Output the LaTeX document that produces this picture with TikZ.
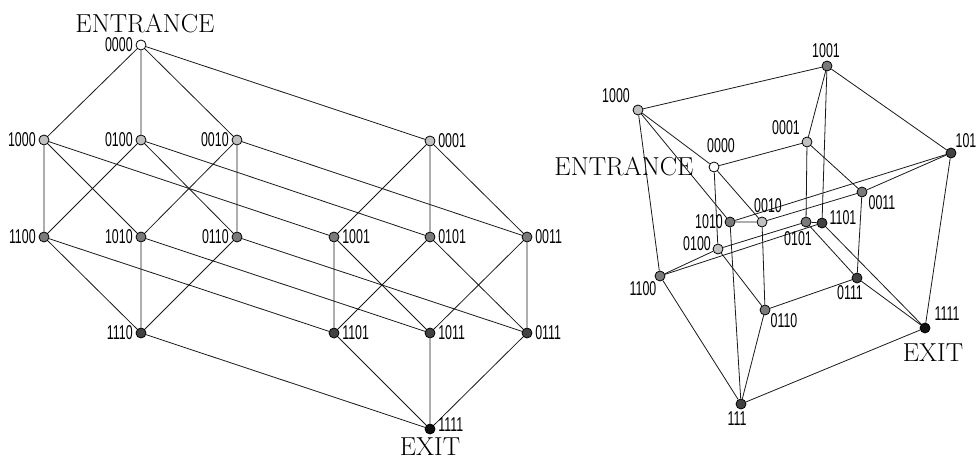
\documentclass[tikz,border=0pt]{standalone}
\usepackage{fontspec}
\newfontfamily\bitfont[FakeStretch=0.62]{Liberation Sans}
\usetikzlibrary{positioning}
\definecolor{lvlone}{RGB}{192,192,192}
\definecolor{lvltwo}{RGB}{122,122,122}
\definecolor{lvlthree}{RGB}{66,66,66}
\definecolor{lvlfour}{RGB}{16,16,16}

\begin{document}
\begin{tikzpicture}[
  x=0.75pt, y=-0.75pt,
  vtx/.style={circle, draw=black, line width=0.6pt, minimum size=7.5pt,
    inner sep=0pt},
  v0/.style={vtx, fill=white},
  v1/.style={vtx, fill=lvlone},
  v2/.style={vtx, fill=lvltwo},
  v3/.style={vtx, fill=lvlthree},
  v4/.style={vtx, fill=lvlfour},
  edge/.style={draw=black!90, line width=0.6pt},
  bit/.style={font=\bitfont\fontsize{15}{17}\selectfont, inner sep=0pt},
  word/.style={font=\fontsize{19.5}{22}\selectfont, inner sep=0pt},
]
  \useasboundingbox (0,0) rectangle (977,459);

  % Left: layered hypercube
  \node[v0] (n0000) at (141,45) {};
  \node[v1] (n1000) at (44,140) {};
  \node[v1] (n0100) at (141,140) {};
  \node[v1] (n0010) at (237,140) {};
  \node[v1] (n0001) at (430,141) {};
  \node[v2] (n1100) at (44,237) {};
  \node[v2] (n1010) at (141,237) {};
  \node[v2] (n0110) at (237,237) {};
  \node[v2] (n1001) at (334,237) {};
  \node[v2] (n0101) at (430,237) {};
  \node[v2] (n0011) at (527,237) {};
  \node[v3] (n1110) at (141,333) {};
  \node[v3] (n1101) at (334,333) {};
  \node[v3] (n1011) at (430,333) {};
  \node[v3] (n0111) at (527,333) {};
  \node[v4] (n1111) at (430,429) {};

  \draw[edge] (n0000) -- (n1000) (n0000) -- (n0100) (n0000) -- (n0010) (n0000) -- (n0001);
  \draw[edge] (n1000) -- (n1100) (n1000) -- (n1010) (n1000) -- (n1001);
  \draw[edge] (n0100) -- (n1100) (n0100) -- (n0110) (n0100) -- (n0101);
  \draw[edge] (n0010) -- (n1010) (n0010) -- (n0110) (n0010) -- (n0011);
  \draw[edge] (n0001) -- (n1001) (n0001) -- (n0101) (n0001) -- (n0011);
  \draw[edge] (n1100) -- (n1110) (n1100) -- (n1101);
  \draw[edge] (n1010) -- (n1110) (n1010) -- (n1011);
  \draw[edge] (n0110) -- (n1110) (n0110) -- (n0111);
  \draw[edge] (n1001) -- (n1101) (n1001) -- (n1011);
  \draw[edge] (n0101) -- (n1101) (n0101) -- (n0111);
  \draw[edge] (n0011) -- (n1011) (n0011) -- (n0111);
  \draw[edge] (n1110) -- (n1111) (n1101) -- (n1111) (n1011) -- (n1111) (n0111) -- (n1111);

  \node[bit, left=2pt of n0000] (a0000) {0000};
  \node[bit, left=2pt of n1000] (a1000) {1000};
  \node[bit, left=2pt of n0100] (a0100) {0100};
  \node[bit, left=2pt of n0010] (a0010) {0010};
  \node[bit, right=2pt of n0001] (a0001) {0001};
  \node[bit, left=2pt of n1100] (a1100) {1100};
  \node[bit, left=2pt of n1010] (a1010) {1010};
  \node[bit, left=2pt of n0110] (a0110) {0110};
  \node[bit, right=2pt of n1001] (a1001) {1001};
  \node[bit, right=2pt of n0101] (a0101) {0101};
  \node[bit, right=2pt of n0011] (a0011) {0011};
  \node[bit, left=2pt of n1110] (a1110) {1110};
  \node[bit, right=2pt of n1101] (a1101) {1101};
  \node[bit, right=2pt of n1011] (a1011) {1011};
  \node[bit, right=2pt of n0111] (a0111) {0111};
  \node[bit, right=2pt of n1111, yshift=3pt] (a1111) {1111};
  \node[word] (entl) at (145,24) {ENTRANCE};
  \node[word] (exitl) at (430,447) {EXIT};

  % Right: hypercube in perspective
  \node[v0] (m0000) at (714,167) {};
  \node[v1] (m1000) at (638,110) {};
  \node[v1] (m0100) at (718,249) {};
  \node[v1] (m0010) at (762,222) {};
  \node[v1] (m0001) at (807,142) {};
  \node[v2] (m1100) at (660,276) {};
  \node[v2] (m1010) at (730,222) {};
  \node[v2] (m0110) at (765,310) {};
  \node[v2] (m1001) at (827,66) {};
  \node[v2] (m0101) at (806,222) {};
  \node[v2] (m0011) at (862,192) {};
  \node[v3] (m1110) at (741,404) {};
  \node[v3] (m1101) at (822,223) {};
  \node[v3] (m1011) at (951,153) {};
  \node[v3] (m0111) at (857,278) {};
  \node[v4] (m1111) at (925,328) {};

  \draw[edge] (m0000) -- (m1000) (m0000) -- (m0100) (m0000) -- (m0010) (m0000) -- (m0001);
  \draw[edge] (m1000) -- (m1100) (m1000) -- (m1010) (m1000) -- (m1001);
  \draw[edge] (m0100) -- (m1100) (m0100) -- (m0110) (m0100) -- (m0101);
  \draw[edge] (m0010) -- (m1010) (m0010) -- (m0110) (m0010) -- (m0011);
  \draw[edge] (m0001) -- (m1001) (m0001) -- (m0101) (m0001) -- (m0011);
  \draw[edge] (m1100) -- (m1110) (m1100) -- (m1101);
  \draw[edge] (m1010) -- (m1110) (m1010) -- (m1011);
  \draw[edge] (m0110) -- (m1110) (m0110) -- (m0111);
  \draw[edge] (m1001) -- (m1101) (m1001) -- (m1011);
  \draw[edge] (m0101) -- (m1101) (m0101) -- (m0111);
  \draw[edge] (m0011) -- (m1011) (m0011) -- (m0111);
  \draw[edge] (m1110) -- (m1111) (m1101) -- (m1111) (m1011) -- (m1111) (m0111) -- (m1111);

  \node[bit] (b0000) at (721,146) {0000};
  \node[bit] (b1000) at (616,96) {1000};
  \node[bit] (b0100) at (697,244) {0100};
  \node[bit] (b0010) at (768,206) {0010};
  \node[bit] (b0001) at (786,128) {0001};
  \node[bit] (b1100) at (643,289) {1100};
  \node[bit] (b1010) at (709,222) {1010};
  \node[bit] (b0110) at (784,321) {0110};
  \node[bit] (b1001) at (826,51) {1001};
  \node[bit] (b0101) at (798,239) {0101};
  \node[bit] (b0011) at (882,203) {0011};
  \node[bit] (b1110) at (737,419) {111};
  \node[bit] (b1101) at (843,218) {1101};
  \node[bit] (b1011) at (966,141) {101};
  \node[bit] (b0111) at (850,293) {0111};
  \node[bit] (b1111) at (947,314) {1111};
  \node[word] (entr) at (624,167) {ENTRANCE};
  \node[word] (exitr) at (933,353) {EXIT};
\end{tikzpicture}
\end{document}
